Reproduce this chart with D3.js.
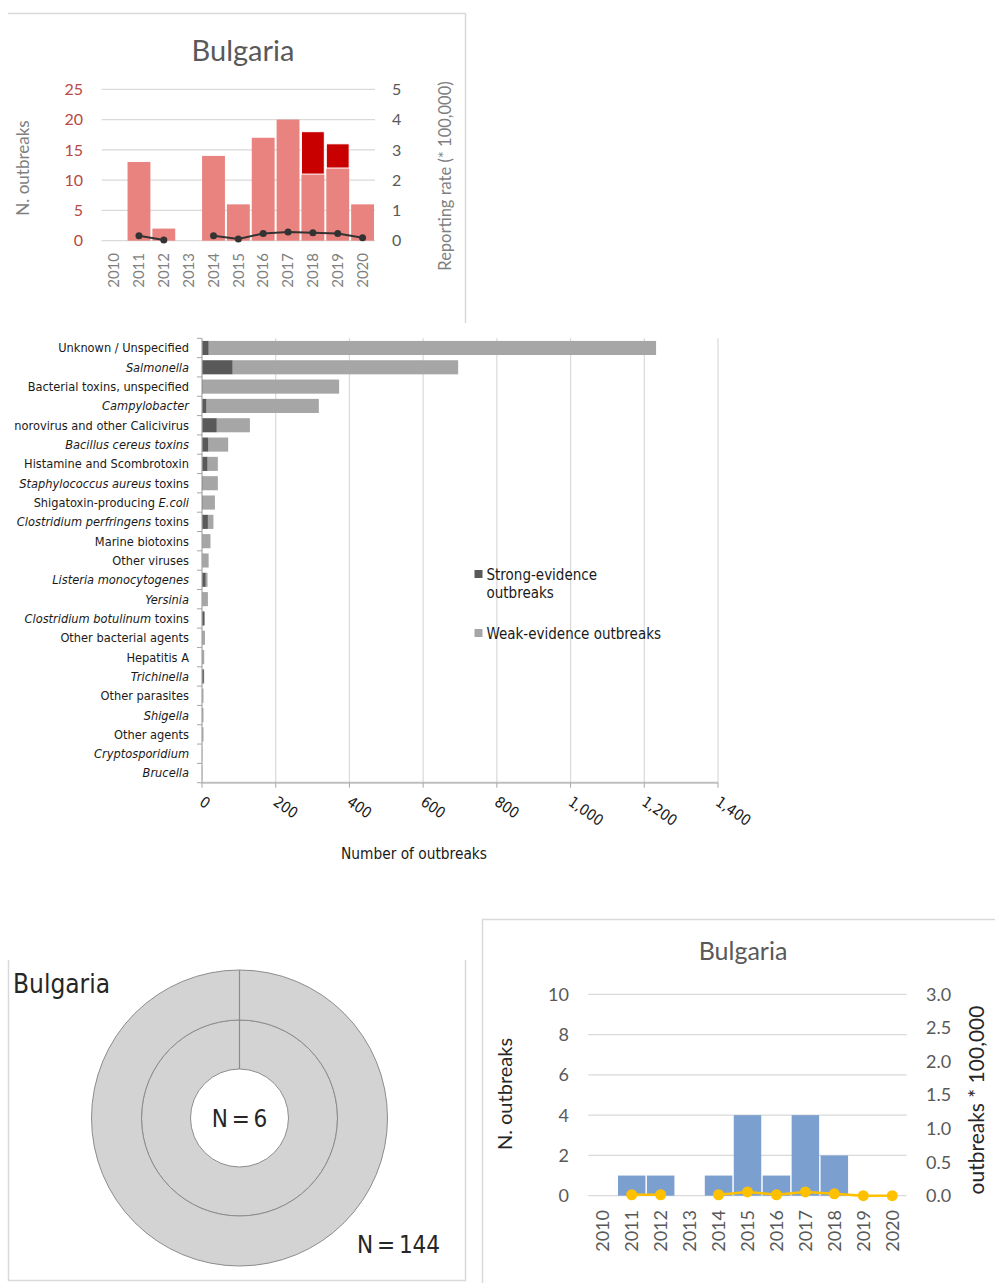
<!DOCTYPE html>
<html><head><meta charset="utf-8">
<script src="https://cdn.jsdelivr.net/npm/d3@7"></script>
<style>body{margin:0;background:#fff} svg{display:block}</style>
</head><body>
<svg id="c" width="995" height="1283"></svg>
<script>
// ---------- DATA ----------
const years = ["2010","2011","2012","2013","2014","2015","2016","2017","2018","2019","2020"];
// Top chart (reported outbreaks)
const topWeak   = [0, 13, 2, 0, 14, 6, 17, 20, 11, 12, 6];
const topStrong = [0, 0, 0, 0, 0, 0, 0, 0, 7, 4, 0];
const topRate   = [null, 0.16, 0.02, null, 0.16, 0.06, 0.24, 0.29, 0.26, 0.24, 0.10];
const topLeftTicks  = [0, 5, 10, 15, 20, 25];
const topRightTicks = [0, 1, 2, 3, 4, 5];

// Middle chart (causative agents)
const agents = [
  "Unknown / Unspecified", "<i>Salmonella</i>", "Bacterial toxins, unspecified", "<i>Campylobacter</i>",
  "norovirus and other Calicivirus", "<i>Bacillus cereus toxins</i>", "Histamine and Scombrotoxin",
  "<i>Staphylococcus aureus</i> toxins", "Shigatoxin-producing <i>E.coli</i>", "<i>Clostridium perfringens</i> toxins",
  "Marine biotoxins", "Other viruses", "<i>Listeria monocytogenes</i>", "<i>Yersinia</i>",
  "<i>Clostridium botulinum</i> toxins", "Other bacterial agents", "Hepatitis A", "<i>Trichinella</i>",
  "Other parasites", "<i>Shigella</i>", "Other agents", "<i>Cryptosporidium</i>", "<i>Brucella</i>"
];
const strongEv = [18, 83, 2, 12, 40, 17, 15, 2, 2, 16, 1, 1, 10, 1, 7, 1, 1, 5, 1, 1, 1, 0, 0];
const weakEv   = [1214, 612, 370, 305, 90, 54, 28, 41, 33, 15, 22, 17, 5, 15, 0, 7, 5, 1, 3, 3, 3, 1, 1];
const xTicks = [0, 200, 400, 600, 800, 1000, 1200, 1400];
const legendLabels = [["Strong-evidence", "outbreaks"], ["Weak-evidence outbreaks"]];

// Donut
const donutRings = [6, 144];
const donutLabels = ["N = 6", "N = 144"];

// Bottom-right chart
const brOutbreaks = [0, 1, 1, 0, 1, 4, 1, 4, 2, 0, 0];
const brRate = [null, 0.014, 0.014, null, 0.014, 0.056, 0.014, 0.056, 0.028, 0, 0];
const brLeftTicks = [0, 2, 4, 6, 8, 10];
const brRightTicks = [0, 0.5, 1, 1.5, 2, 2.5, 3];

// ---------- DRAW ----------
const svg = d3.select("#c");
const calib = "Lato, 'Open Sans', sans-serif";
const cond = "'DejaVu Sans Condensed', 'DejaVu Sans', sans-serif";
const frame = "#d9d9d9";

// ===== TOP CHART =====
(function(){
  const g = svg.append("g");
  g.append("line").attr("x1",8).attr("x2",465).attr("y1",13.5).attr("y2",13.5).attr("stroke",frame).attr("stroke-width",1.5);
  g.append("line").attr("x1",465.5).attr("x2",465.5).attr("y1",13).attr("y2",323).attr("stroke",frame).attr("stroke-width",1.5);

  const x = d3.scaleBand().domain(years).range([101.7, 375]).paddingInner(0.08).paddingOuter(0.04);
  const yL = d3.scaleLinear().domain([0,25]).range([240.7, 89.3]);
  const yR = d3.scaleLinear().domain([0,5]).range([240.7, 89.3]);

  g.selectAll(".gl").data(topLeftTicks).join("line")
    .attr("x1",101.7).attr("x2",375).attr("y1",d=>yL(d)).attr("y2",d=>yL(d))
    .attr("stroke","#d9d9d9").attr("stroke-width",1.2);

  g.append("text").attr("x",243).attr("y",61).attr("text-anchor","middle")
    .attr("font-family",calib).attr("font-size",29).attr("fill","#595959").text("Bulgaria");

  g.selectAll(".lt").data(topLeftTicks).join("text")
    .attr("x",83).attr("y",d=>yL(d)).attr("dy","0.36em").attr("text-anchor","end")
    .attr("font-family",calib).attr("font-size",16).attr("fill","#b54a45").text(d=>d);
  g.selectAll(".rt").data(topRightTicks).join("text")
    .attr("x",392).attr("y",d=>yR(d)).attr("dy","0.36em").attr("text-anchor","start")
    .attr("font-family",calib).attr("font-size",16).attr("fill","#595959").text(d=>d);

  g.append("text").attr("transform","translate(23,168) rotate(-90)").attr("text-anchor","middle")
    .attr("dy","0.35em").attr("font-family",calib).attr("font-size",17).attr("fill","#7f7f7f").text("N. outbreaks");
  g.append("text").attr("transform","translate(445,176) rotate(-90)").attr("text-anchor","middle")
    .attr("dy","0.35em").attr("font-family",calib).attr("font-size",16.5).attr("fill","#7f7f7f").text("Reporting rate (* 100,000)");

  g.selectAll(".yr").data(years).join("text")
    .attr("transform",d=>`translate(${x(d)+x.bandwidth()/2},253) rotate(-90)`)
    .attr("text-anchor","end").attr("dy","0.35em")
    .attr("font-family",calib).attr("font-size",15).attr("fill","#7f7f7f").text(d=>d);

  const data = years.map((y,i)=>({y, w:topWeak[i], s:topStrong[i], r:topRate[i]}));
  g.selectAll(".bw").data(data.filter(d=>d.w>0)).join("rect")
    .attr("x",d=>x(d.y)).attr("width",x.bandwidth())
    .attr("y",d=>yL(d.w)).attr("height",d=>yL(0)-yL(d.w))
    .attr("fill","#e8837f");
  g.selectAll(".bs").data(data.filter(d=>d.s>0)).join("rect")
    .attr("x",d=>x(d.y)).attr("width",x.bandwidth())
    .attr("y",d=>yL(d.w+d.s)).attr("height",d=>yL(d.w)-yL(d.w+d.s))
    .attr("fill","#c80000").attr("stroke","#fff").attr("stroke-width",1);

  const line = d3.line().defined(d=>d.r!=null).x(d=>x(d.y)+x.bandwidth()/2).y(d=>yR(d.r));
  g.append("path").attr("d",line(data)).attr("fill","none").attr("stroke","#333").attr("stroke-width",2);
  g.selectAll(".pt").data(data.filter(d=>d.r!=null)).join("circle")
    .attr("cx",d=>x(d.y)+x.bandwidth()/2).attr("cy",d=>yR(d.r)).attr("r",3.5).attr("fill","#333");
})();

// ===== MIDDLE CHART =====
(function(){
  const g = svg.append("g");
  const x = d3.scaleLinear().domain([0,1400]).range([202, 718]);
  const y = d3.scaleBand().domain(d3.range(agents.length)).range([338.3, 782.7]).paddingInner(0.27).paddingOuter(0.135);
  const top = 338.3, bot = 782.7;

  g.selectAll(".gv").data(xTicks.slice(1)).join("line")
    .attr("x1",d=>x(d)).attr("x2",d=>x(d)).attr("y1",top).attr("y2",bot)
    .attr("stroke","#d9d9d9").attr("stroke-width",1.2);

  const rows = agents.map((a,i)=>({i, s:strongEv[i], w:weakEv[i]}));
  g.selectAll(".bw").data(rows).join("rect")
    .attr("x",d=>x(d.s)).attr("width",d=>x(d.s+d.w)-x(d.s))
    .attr("y",d=>y(d.i)).attr("height",y.bandwidth()).attr("fill","#a6a6a6");
  g.selectAll(".bs").data(rows).join("rect")
    .attr("x",x(0)).attr("width",d=>x(d.s)-x(0))
    .attr("y",d=>y(d.i)).attr("height",y.bandwidth()).attr("fill","#595959");

  // axes
  g.append("line").attr("x1",202).attr("x2",202).attr("y1",top).attr("y2",bot).attr("stroke","#a6a6a6").attr("stroke-width",1.2);
  const step = (bot-top)/agents.length;
  g.selectAll(".yt").data(d3.range(agents.length+1)).join("line")
    .attr("x1",197).attr("x2",202).attr("y1",d=>top+d*step).attr("y2",d=>top+d*step)
    .attr("stroke","#a6a6a6").attr("stroke-width",1);
  g.append("line").attr("x1",201).attr("x2",718).attr("y1",bot).attr("y2",bot).attr("stroke","#bfbfbf").attr("stroke-width",2);
  g.selectAll(".xt").data(xTicks).join("line")
    .attr("x1",d=>x(d)).attr("x2",d=>x(d)).attr("y1",bot).attr("y2",bot+5)
    .attr("stroke","#a6a6a6").attr("stroke-width",1);

  // labels
  g.selectAll(".yl").data(agents).join("text")
    .attr("x",189).attr("y",(d,i)=>y(i)+y.bandwidth()/2).attr("dy","0.35em")
    .attr("text-anchor","end").attr("font-family",cond).attr("font-size",12.7).attr("fill","#1a1a1a")
    .each(function(d){
      const t = d3.select(this);
      d.split(/(<i>.*?<\/i>)/).filter(s=>s.length).forEach(seg=>{
        const it = seg.startsWith("<i>");
        t.append("tspan").attr("font-style", it ? "italic" : "normal").text(it ? seg.slice(3,-4) : seg);
      });
    });

  g.selectAll(".xl").data(xTicks).join("text")
    .attr("transform",d=>`translate(${x(d)+3},795) rotate(35)`)
    .attr("text-anchor","start").attr("dominant-baseline","hanging")
    .attr("font-family",cond).attr("font-size",15).attr("fill","#1a1a1a").text(d=>d3.format(",")(d));

  g.append("text").attr("x",414).attr("y",859).attr("text-anchor","middle")
    .attr("font-family",cond).attr("font-size",15.3).attr("fill","#1a1a1a").text("Number of outbreaks");

  // legend
  const lg = g.append("g");
  const lcol = ["#595959","#a6a6a6"];
  const ly = [570, 629];
  lcol.forEach((c,i)=>{
    lg.append("rect").attr("x",474.5).attr("y",ly[i]).attr("width",8).attr("height",8).attr("fill",c);
    legendLabels[i].forEach((t,j)=>{
      lg.append("text").attr("x",486.5).attr("y",ly[i]+9.5+j*18).attr("font-family",cond).attr("font-size",15)
        .attr("fill","#1a1a1a").text(t);
    });
  });
})();

// ===== DONUT =====
(function(){
  const g = svg.append("g");
  g.append("path").attr("d","M8.5,960 L8.5,1280.5 L465.5,1280.5 L465.5,960").attr("fill","none").attr("stroke",frame).attr("stroke-width",1.5);
  g.append("text").attr("x",13).attr("y",993).attr("font-family",cond).attr("font-size",26).attr("fill","#262626").text("Bulgaria");

  const cx = 239.5, cy = 1118;
  const radii = [[49, 98], [98, 148]];
  const pie = d3.pie().sort(null);
  const c = g.append("g").attr("transform",`translate(${cx},${cy})`);
  donutRings.forEach((n,i)=>{
    const arcs = pie([n]);
    const arc = d3.arc().innerRadius(radii[i][0]).outerRadius(radii[i][1]);
    c.selectAll(".r"+i).data(arcs).join("path").attr("d",arc)
      .attr("fill","#d3d3d3").attr("stroke","#8c8c8c").attr("stroke-width",1);
    arcs.forEach(a=>{
      const ang = a.startAngle - Math.PI/2;
      c.append("line")
        .attr("x1",radii[i][0]*Math.cos(ang)).attr("y1",radii[i][0]*Math.sin(ang))
        .attr("x2",radii[i][1]*Math.cos(ang)).attr("y2",radii[i][1]*Math.sin(ang))
        .attr("stroke","#8c8c8c").attr("stroke-width",1.2);
    });
  });
  g.append("text").attr("x",cx).attr("y",cy+9).attr("text-anchor","middle").attr("font-family",cond)
    .attr("font-size",24).attr("word-spacing",-3).attr("fill","#262626").text(donutLabels[0]);
  g.append("text").attr("x",398.5).attr("y",1253).attr("text-anchor","middle").attr("font-family",cond)
    .attr("font-size",24).attr("word-spacing",-3).attr("fill","#262626").text(donutLabels[1]);
})();

// ===== BOTTOM-RIGHT CHART =====
(function(){
  const g = svg.append("g");
  g.append("path").attr("d","M482.5,1283 L482.5,919.5 L995,919.5").attr("fill","none").attr("stroke",frame).attr("stroke-width",1.5);

  const x = d3.scaleBand().domain(years).range([588.3, 906.7]).paddingInner(0.05).paddingOuter(0.025);
  const yL = d3.scaleLinear().domain([0,10]).range([1195.7, 994.3]);
  const yR = d3.scaleLinear().domain([0,3]).range([1195.7, 994.3]);

  g.selectAll(".gl").data(brLeftTicks).join("line")
    .attr("x1",588.3).attr("x2",906.7).attr("y1",d=>yL(d)).attr("y2",d=>yL(d))
    .attr("stroke","#d9d9d9").attr("stroke-width",1.3);

  g.append("text").attr("x",743).attr("y",960).attr("text-anchor","middle")
    .attr("font-family",calib).attr("font-size",25).attr("fill","#595959").text("Bulgaria");

  g.selectAll(".lt").data(brLeftTicks).join("text")
    .attr("x",569).attr("y",d=>yL(d)).attr("dy","0.36em").attr("text-anchor","end")
    .attr("font-family",calib).attr("font-size",18).attr("fill","#595959").text(d=>d);
  g.selectAll(".rt").data(brRightTicks).join("text")
    .attr("x",926).attr("y",d=>yR(d)).attr("dy","0.36em").attr("text-anchor","start")
    .attr("font-family",calib).attr("font-size",18).attr("fill","#595959").text(d=>d3.format(".1f")(d));

  g.append("text").attr("transform","translate(505,1094) rotate(-90)").attr("text-anchor","middle")
    .attr("dy","0.35em").attr("font-family",calib).attr("font-size",20).attr("fill","#262626").text("N. outbreaks");
  g.append("text").attr("transform","translate(977,1100) rotate(-90)").attr("text-anchor","middle")
    .attr("dy","0.35em").attr("font-family",calib).attr("font-size",21).attr("fill","#262626").text("outbreaks * 100,000");

  g.selectAll(".yr").data(years).join("text")
    .attr("transform",d=>`translate(${x(d)+x.bandwidth()/2},1210) rotate(-90)`)
    .attr("text-anchor","end").attr("dy","0.35em")
    .attr("font-family",calib).attr("font-size",18).attr("fill","#595959").text(d=>d);

  const data = years.map((y,i)=>({y, v:brOutbreaks[i], r:brRate[i]}));
  g.selectAll(".b").data(data.filter(d=>d.v>0)).join("rect")
    .attr("x",d=>x(d.y)).attr("width",x.bandwidth())
    .attr("y",d=>yL(d.v)).attr("height",d=>yL(0)-yL(d.v))
    .attr("fill","#7ba0d0");

  const line = d3.line().defined(d=>d.r!=null).x(d=>x(d.y)+x.bandwidth()/2).y(d=>yR(d.r));
  g.append("path").attr("d",line(data)).attr("fill","none").attr("stroke","#ffc000").attr("stroke-width",2.5);
  g.selectAll(".pt").data(data.filter(d=>d.r!=null)).join("circle")
    .attr("cx",d=>x(d.y)+x.bandwidth()/2).attr("cy",d=>yR(d.r)).attr("r",5.5).attr("fill","#ffc000");
})();
</script>
</body></html>
